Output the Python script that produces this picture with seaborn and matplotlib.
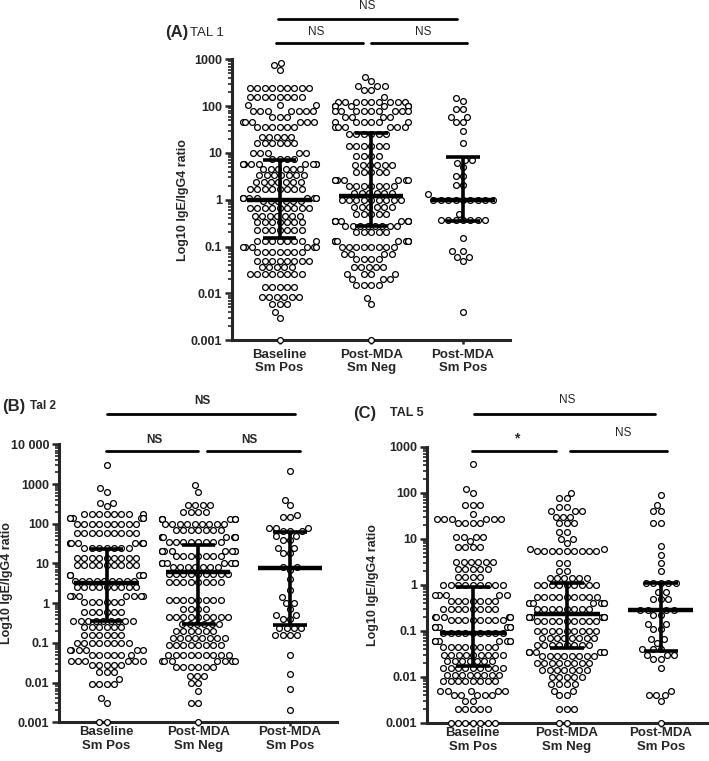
import numpy as np
import pandas as pd
import matplotlib
matplotlib.use("Agg")
import matplotlib.pyplot as plt
import matplotlib.transforms as mtransforms
from matplotlib.ticker import FixedLocator, FixedFormatter, LogLocator, NullFormatter
import seaborn as sns

groups = ["Baseline\nSm Pos", "Post-MDA\nSm Neg", "Post-MDA\nSm Pos"]

# each swarm is stored as the row values and how many circles sit on that row
# TAL 1
tal1_base_vals = [850, 750, 600, 240, 160, 105, 80, 60, 45, 35, 22, 16, 10, 7.5, 5.9, 4.5, 3.3, 2.4,
                  1.7, 1.1, 0.93, 0.66, 0.46, 0.33, 0.23, 0.13, 0.1, 0.077, 0.05, 0.036, 0.026,
                  0.014, 0.0083, 0.006, 0.004, 0.003, 0.001]
tal1_base_n = [1, 1, 1, 9, 8, 3, 7, 3, 6, 6, 5, 6, 5, 4, 9, 6, 7, 7, 8, 9, 6, 9, 7, 7, 7, 8, 6, 7,
               8, 5, 8, 5, 6, 3, 1, 1, 1]
tal1_neg_vals = [420, 350, 270, 220, 155, 125, 100, 80, 60, 45, 35, 26, 14, 8.5, 5.5, 3.9, 2.6, 2.0,
                 1.4, 1.0, 0.7, 0.5, 0.36, 0.27, 0.2, 0.13, 0.1, 0.07, 0.055, 0.036, 0.026, 0.02,
                 0.015, 0.008, 0.006, 0.001]
tal1_neg_n = [1, 1, 3, 2, 1, 9, 8, 9, 4, 6, 6, 6, 6, 4, 6, 5, 7, 7, 6, 9, 6, 5, 9, 8, 5, 9, 8,
              4, 4, 5, 4, 3, 4, 1, 1, 1]
tal1_pos_vals = [150, 130, 85, 60, 45, 30, 16, 7, 6, 5, 3.2, 2.1, 1.3, 1.0, 0.5, 0.37, 0.15, 0.08,
                 0.06, 0.05, 0.004]
tal1_pos_n = [1, 1, 2, 2, 2, 1, 1, 2, 1, 1, 2, 2, 1, 9, 1, 7, 1, 2, 2, 1, 1]
tal1_median = [1.0, 1.2, 1.0]
tal1_q1 = [0.15, 0.28, 0.36]
tal1_q3 = [7.0, 27, 8.2]

# Tal 2
tal2_base_vals = [3000, 800, 650, 330, 280, 180, 140, 100, 58, 32, 25, 14, 9, 5, 3.7, 2.5, 1.5, 1.1,
                  0.6, 0.36, 0.25, 0.16, 0.1, 0.065, 0.05, 0.035, 0.028, 0.018, 0.012, 0.009, 0.004,
                  0.003, 0.001]
tal2_base_n = [1, 1, 1, 2, 1, 8, 6, 9, 9, 9, 7, 9, 9, 6, 9, 9, 7, 6, 6, 9, 6, 6, 8, 6, 6, 6,
               5, 3, 1, 4, 1, 1, 2]
tal2_neg_vals = [950, 650, 290, 200, 130, 100, 70, 46, 35, 21, 15, 10, 8, 5.5, 3.5, 1.2, 0.7, 0.45,
                 0.3, 0.2, 0.13, 0.09, 0.05, 0.035, 0.025, 0.015, 0.01, 0.006, 0.003, 0.001]
tal2_neg_n = [1, 1, 4, 4, 8, 9, 7, 9, 8, 9, 7, 9, 7, 9, 8, 8, 4, 9, 6, 6, 8, 8, 9, 7, 6, 3,
              2, 1, 2, 1]
tal2_pos_vals = [2200, 400, 300, 170, 150, 80, 65, 50, 40, 25, 18, 8, 7, 4, 2.2, 1.4, 1.0, 0.7, 0.5,
                 0.4, 0.23, 0.16, 0.05, 0.016, 0.007, 0.002]
tal2_pos_n = [1, 1, 1, 1, 2, 3, 3, 2, 2, 2, 2, 2, 1, 1, 1, 1, 2, 1, 2, 2, 4, 4, 1, 1, 1, 1]
tal2_median = [3.2, 6.0, 7.5]
tal2_q1 = [0.35, 0.29, 0.28]
tal2_q3 = [23, 30, 62]

# TAL 5
tal5_base_vals = [420, 120, 100, 54, 35, 27, 22, 11, 9, 6.5, 3.1, 2.2, 1.5, 1.0, 0.6, 0.45, 0.3, 0.2,
                  0.17, 0.12, 0.09, 0.06, 0.045, 0.03, 0.022, 0.016, 0.011, 0.008, 0.005, 0.004,
                  0.003, 0.002, 0.001]
tal5_base_n = [1, 1, 1, 3, 1, 6, 4, 4, 1, 4, 6, 5, 4, 9, 5, 7, 8, 6, 8, 8, 9, 8, 8, 9, 7, 9,
               8, 8, 5, 5, 2, 5, 7]
tal5_neg_vals = [100, 75, 50, 40, 30, 22, 14, 10, 8, 6, 5.5, 3, 2, 1.4, 1.0, 0.55, 0.4, 0.3, 0.2,
                 0.16, 0.1, 0.07, 0.05, 0.035, 0.028, 0.02, 0.014, 0.01, 0.007, 0.005, 0.004,
                 0.002, 0.001]
tal5_neg_n = [1, 2, 2, 3, 3, 3, 2, 2, 1, 2, 9, 2, 2, 6, 9, 9, 7, 8, 8, 9, 9, 8, 8, 7, 8,
              8, 7, 5, 4, 2, 2, 3, 2]
tal5_pos_vals = [90, 55, 40, 22, 7, 4.5, 3, 2, 1.1, 0.7, 0.5, 0.28, 0.22, 0.14, 0.11, 0.065, 0.055,
                 0.04, 0.03, 0.025, 0.016, 0.005, 0.004, 0.003, 0.001]
tal5_pos_n = [1, 1, 2, 2, 1, 1, 1, 1, 5, 2, 3, 4, 2, 2, 2, 2, 1, 3, 3, 2, 1, 1, 3, 1, 1]
tal5_median = [0.09, 0.23, 0.28]
tal5_q1 = [0.017, 0.042, 0.036]
tal5_q3 = [0.9, 1.1, 1.1]

sns.set_style("ticks")
plt.rcParams['font.family'] = ['Liberation Sans', 'DejaVu Sans']


def draw_panel(ax, sets, median, q1, q3, ymax, ticks, labels, xlim, xpad):
    frames = []
    for g, (vals, n) in zip(groups, sets):
        frames.append(pd.DataFrame({"group": g, "ratio": np.repeat(vals, n)}))
    df = pd.concat(frames, ignore_index=True)

    ax.set_yscale("log")
    sns.swarmplot(data=df, x="group", y="ratio", order=groups, ax=ax, size=4.2,
                  color="white", edgecolor="black", linewidth=0.9, warn_thresh=1)
    for coll in ax.collections:
        coll.set_clip_on(False)

    xs = np.arange(len(groups))
    ax.hlines(median, xs - 0.35, xs + 0.35, color="black", lw=3.2, zorder=5)
    ax.vlines(xs, q1, q3, color="black", lw=2.6, zorder=5)
    ax.hlines(q1, xs - 0.18, xs + 0.18, color="black", lw=2.6, zorder=5)
    ax.hlines(q3, xs - 0.18, xs + 0.18, color="black", lw=2.6, zorder=5)

    ax.set_ylim(0.001, ymax)
    ax.set_xlim(*xlim)
    ax.yaxis.set_major_locator(FixedLocator(ticks))
    ax.yaxis.set_major_formatter(FixedFormatter(labels))
    ax.yaxis.set_minor_locator(LogLocator(base=10, subs=np.arange(2, 10)))
    ax.yaxis.set_minor_formatter(NullFormatter())
    ax.tick_params(axis="y", which="major", length=5, width=1.8, labelsize=9, pad=2)
    ax.tick_params(axis="y", which="minor", length=3, width=1.2)
    ax.tick_params(axis="x", length=3, width=1.8, labelsize=9.5, pad=xpad)
    for lab in ax.get_yticklabels() + ax.get_xticklabels():
        lab.set_fontweight("bold")
    ax.set_xlabel("")
    ax.set_ylabel("Log10 IgE/IgG4 ratio", fontsize=9, fontweight="bold")
    sns.despine(ax=ax)
    ax.spines["left"].set_linewidth(2.2)
    ax.spines["bottom"].set_linewidth(2.2)


def sig_bar(ax, x0, x1, y, text, tx, ty, weight="normal", size=8.5):
    trans = mtransforms.blended_transform_factory(ax.transData, ax.transAxes)
    ax.plot([x0, x1], [y, y], transform=trans, color="black", lw=2, clip_on=False)
    ax.text(tx, ty, text, transform=trans, ha="center", va="center",
            fontsize=size, fontweight=weight)


fig = plt.figure(figsize=(7.09, 7.61), dpi=100)
ax_a = fig.add_axes([0.327, 0.553, 0.392, 0.369])
ax_b = fig.add_axes([0.083, 0.051, 0.392, 0.365])
ax_c = fig.add_axes([0.602, 0.050, 0.396, 0.363])

dec3 = [0.001, 0.01, 0.1, 1, 10, 100, 1000]
dec3_lab = ["0.001", "0.01", "0.1", "1", "10", "100", "1000"]

draw_panel(ax_a, [(tal1_base_vals, tal1_base_n), (tal1_neg_vals, tal1_neg_n), (tal1_pos_vals, tal1_pos_n)],
           tal1_median, tal1_q1, tal1_q3, 1000, dec3, dec3_lab, (-0.52, 2.51), 3)
draw_panel(ax_b, [(tal2_base_vals, tal2_base_n), (tal2_neg_vals, tal2_neg_n), (tal2_pos_vals, tal2_pos_n)],
           tal2_median, tal2_q1, tal2_q3, 10000, dec3 + [10000], dec3_lab + ["10 000"], (-0.52, 2.51), 0)
draw_panel(ax_c, [(tal5_base_vals, tal5_base_n), (tal5_neg_vals, tal5_neg_n), (tal5_pos_vals, tal5_pos_n)],
           tal5_median, tal5_q1, tal5_q3, 1000, dec3, dec3_lab, (-0.49, 2.5), 0)

ax_a.yaxis.set_label_coords(-0.155, 0.5)
ax_b.yaxis.set_label_coords(-0.165, 0.5)
ax_c.yaxis.set_label_coords(-0.171, 0.5)

# significance brackets
sig_bar(ax_a, -0.02, 1.93, 1.142, "NS", 0.96, 1.19)
sig_bar(ax_a, -0.04, 0.91, 1.06, "NS", 0.40, 1.096)
sig_bar(ax_a, 1.0, 2.04, 1.06, "NS", 1.57, 1.096)

sig_bar(ax_b, 0.0, 2.05, 1.108, "NS", 1.04, 1.158, weight="bold")
sig_bar(ax_b, -0.01, 1.0, 0.978, "NS", 0.52, 1.015, weight="bold")
sig_bar(ax_b, 1.09, 2.11, 0.978, "NS", 1.56, 1.015, weight="bold")

sig_bar(ax_c, 0.01, 1.94, 1.12, "NS", 1.01, 1.17)
sig_bar(ax_c, -0.01, 0.89, 0.985, "*", 0.47, 1.03, weight="bold", size=10)
sig_bar(ax_c, 1.04, 2.07, 0.985, "NS", 1.6, 1.05)

# panel titles
fig.text(0.233, 0.957, "(A)", fontsize=12, fontweight="bold", va="center")
fig.text(0.268, 0.957, "TAL 1", fontsize=9.5, va="center")
fig.text(0.003, 0.466, "(B)", fontsize=12, fontweight="bold", va="center")
fig.text(0.042, 0.466, "Tal 2", fontsize=8.5, fontweight="bold", va="center")
fig.text(0.498, 0.457, "(C)", fontsize=12, fontweight="bold", va="center")
fig.text(0.550, 0.457, "TAL 5", fontsize=9, fontweight="bold", va="center")

fig.savefig("out.png", dpi=100)
